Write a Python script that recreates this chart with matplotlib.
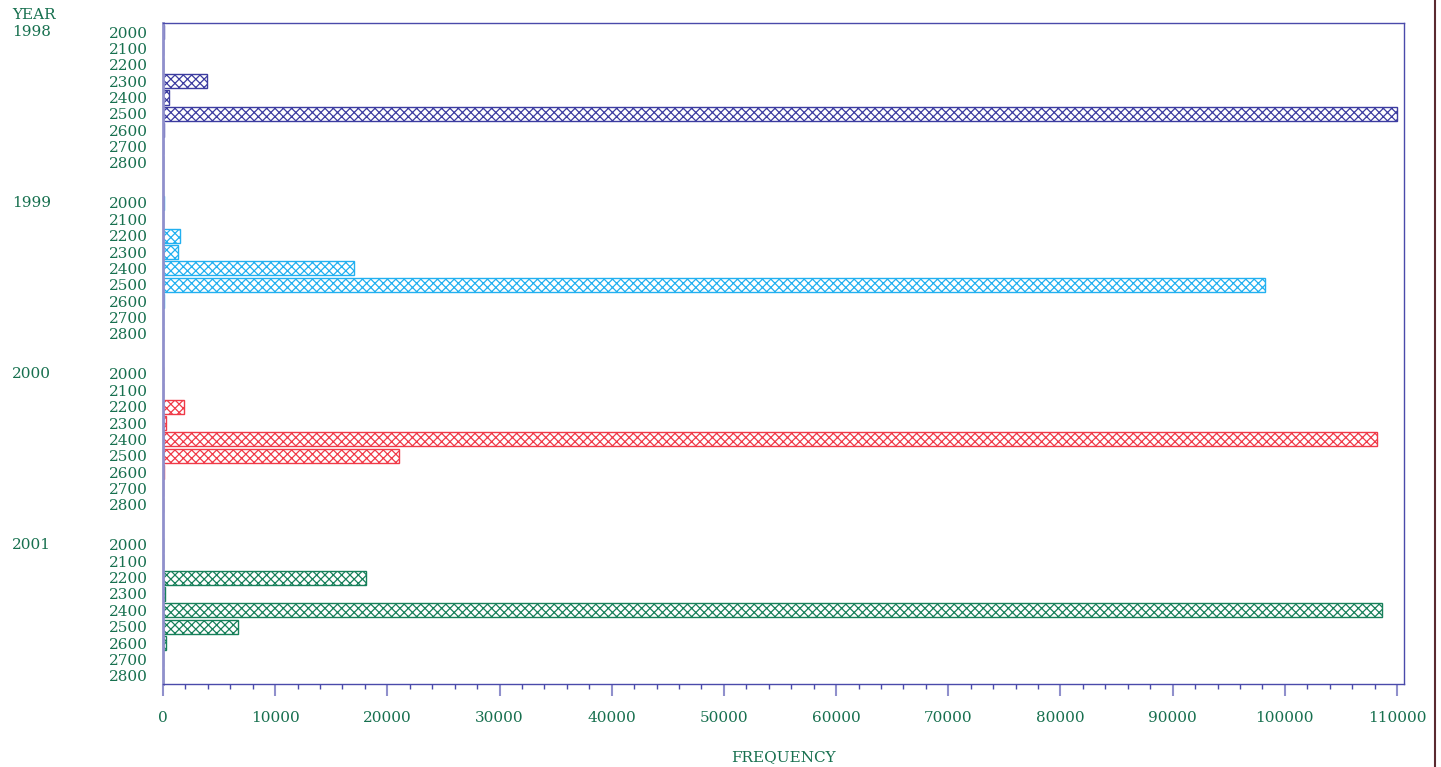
import numpy as np
import matplotlib
matplotlib.use("Agg")
import matplotlib.pyplot as plt
from matplotlib.lines import Line2D
from matplotlib.transforms import blended_transform_factory
from matplotlib.ticker import MultipleLocator

years = ["1998", "1999", "2000", "2001"]
categories = ["2000", "2100", "2200", "2300", "2400", "2500", "2600", "2700", "2800"]

freq_1998 = [120, 0, 0, 3900, 520, 110000, 100, 0, 0]
freq_1999 = [60, 0, 1500, 1350, 17000, 98200, 60, 0, 0]
freq_2000 = [0, 0, 1900, 280, 108200, 21000, 90, 0, 0]
freq_2001 = [0, 0, 18100, 220, 108700, 6700, 250, 0, 0]
series = [freq_1998, freq_1999, freq_2000, freq_2001]

colors = ["#3c3ca0", "#22b0f0", "#f03a48", "#17805a"]
text_color = "#17704f"
axis_color = "#4a4aaa"

plt.rcParams['font.family'] = ['DejaVu Serif']
plt.rcParams['hatch.linewidth'] = 0.9

fig = plt.figure(figsize=(14.41, 7.67), dpi=100)
ax = fig.add_axes([163 / 1441, 1 - 684 / 767, (1404 - 163) / 1441, (684 - 23) / 767])

group_step = 10.44
ypos_all = []
labels_all = []
for g, vals in enumerate(series):
    ypos = g * group_step + np.arange(len(categories))
    ax.barh(ypos, vals, height=0.86, color="white", edgecolor=colors[g],
            hatch="xxxx", linewidth=1.0)
    ypos_all.extend(ypos)
    labels_all.extend(categories)

ax.set_ylim(3 * group_step + 8 + 0.5, -0.55)
ax.set_xlim(0, 110620)

fs = 11
ax.set_yticks(ypos_all)
ax.set_yticklabels(labels_all, color=text_color, fontsize=fs)
ax.tick_params(axis="y", length=0, pad=11)

ax.xaxis.set_major_locator(MultipleLocator(10000))
ax.xaxis.set_minor_locator(MultipleLocator(2000))
ax.tick_params(axis="x", which="major", length=8.5, width=1.5, color="#9090cc",
               labelcolor=text_color, labelsize=fs, pad=11)
ax.tick_params(axis="x", which="minor", length=3.6, width=1.0, color=axis_color)

for side in ["top", "right", "bottom"]:
    ax.spines[side].set_color(axis_color)
    ax.spines[side].set_linewidth(1.0)
ax.spines["left"].set_color("#9090cc")
ax.spines["left"].set_linewidth(2.0)

ax.set_xlabel("FREQUENCY", color=text_color, fontsize=fs, labelpad=18)

trans = blended_transform_factory(fig.transFigure, ax.transData)
for g, yr in enumerate(years):
    ax.text(12 / 1441, g * group_step, yr, transform=trans, color=text_color,
            fontsize=fs, ha="left", va="center")
fig.text(12 / 1441, 1 - 15 / 767, "YEAR", color=text_color, fontsize=fs,
         ha="left", va="center")

fig.add_artist(Line2D([1435 / 1441, 1435 / 1441], [0, 1], transform=fig.transFigure,
                      color="#5a2a30", linewidth=1.5))

fig.savefig("out.png", dpi=100)
